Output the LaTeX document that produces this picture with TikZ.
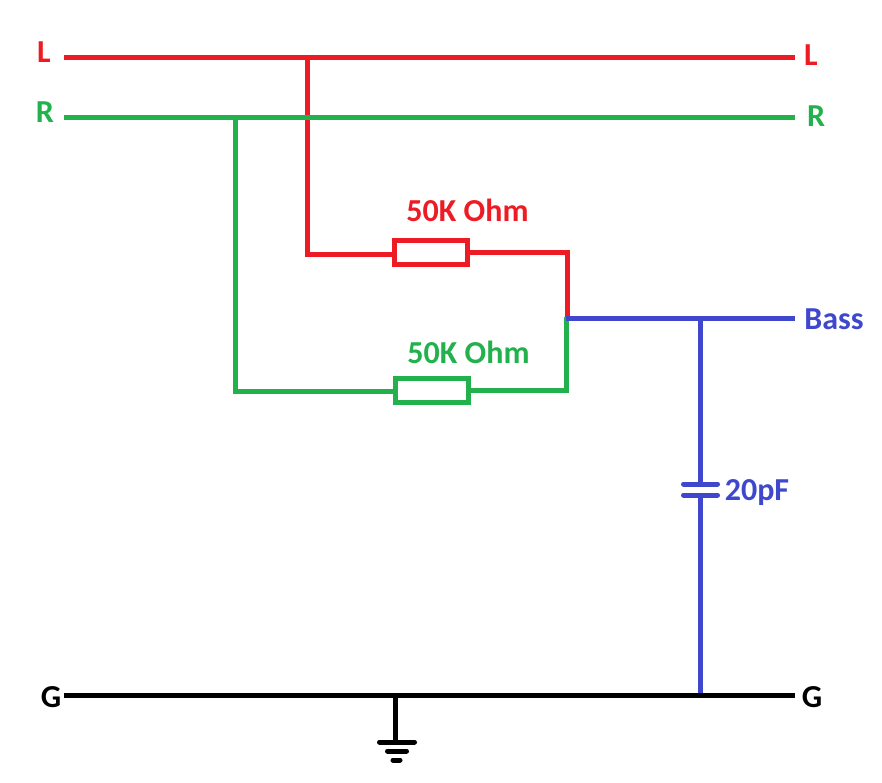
\documentclass[tikz,border=0pt]{standalone}
\usepackage{fontspec}
\usetikzlibrary{calc}
\setmainfont{Carlito}
\definecolor{wred}{HTML}{ED1C24}
\definecolor{wgreen}{HTML}{22B14C}
\definecolor{wblue}{HTML}{3F48CC}
\tikzset{
  wire/.style={line width=5pt,line cap=butt},
  plate/.style={line width=5pt,line cap=round},
  lbl/.style={font=\bfseries\fontsize{32}{32}\selectfont,inner sep=0pt,anchor=center},
  resbox/.style={draw,line width=5pt,fill=white,inner sep=0pt,minimum width=73pt,minimum height=24pt}
}
\begin{document}
\begin{tikzpicture}[x=1pt,y=-1pt]
\useasboundingbox (0,0) rectangle (882,782);
% terminals
\coordinate (Ls) at (64,57); \coordinate (Le) at (795,57);
\coordinate (Rs) at (64,117.5); \coordinate (Re) at (795,117.5);
\coordinate (Gs) at (64,695); \coordinate (Ge) at (795,695);
\coordinate (Be) at (795,318.5);
% junctions
\coordinate (jr) at (307.5,57); \coordinate (jrb) at (307.5,254);
\coordinate (jg) at (235.5,117.5); \coordinate (jgb) at (235.5,391);
\coordinate (mr) at (567.5,252.5); \coordinate (mb) at (567.5,318.5);
\coordinate (mg) at (566.5,390); \coordinate (mgt) at (566.5,319);
\coordinate (jb) at (700.5,318.5); \coordinate (jbg) at (700.5,695);
\coordinate (c1) at (700.5,484); \coordinate (c2) at (700.5,495);
\coordinate (gt) at (395.5,695); \coordinate (gb) at (395.5,742);
% main rails
\draw[wire,wred] (Ls) -- (Le);
\draw[wire,wred] (jr) -- (jrb);
\draw[wire,wgreen] (Rs) -- (Re);
\draw[wire,wgreen] (jg) -- (jgb);
% resistors
\node[resbox,draw=wred] (r1) at (431,252.5) {};
\node[resbox,draw=wgreen] (r2) at (432,390.25) {};
% resistor legs
\draw[wire,wred] ([xshift=-2.5pt]jrb) -- (r1.west |- jrb);
\draw[wire,wred] (r1.east |- mr) -- ([xshift=2.5pt]mr);
\draw[wire,wred] (mr) -- (mb);
\draw[wire,wgreen] ([xshift=-2.5pt]jgb) -- (r2.west |- jgb);
\draw[wire,wgreen] (r2.east |- mg) -- ([xshift=2.5pt]mg);
\draw[wire,wgreen] ([yshift=2.5pt]mgt) -- ([yshift=2.5pt]mg);
% bass line and capacitor
\draw[wire,wblue] ([xshift=-2pt]mb) -- (Be);
\draw[wire,wblue] (jb) -- (c1);
\draw[wire,wblue] (c2) -- (jbg);
\draw[plate,wblue] ([xshift=-17pt]c1) -- ([xshift=17pt]c1);
\draw[plate,wblue] ([xshift=-17pt]c2) -- ([xshift=17pt]c2);
% ground
\draw[wire,black] (Gs) -- (Ge);
\draw[wire,black] (gt) -- (gb);
\draw[plate,black] ([xshift=-16pt]gb) -- ([xshift=19pt]gb);
\draw[plate,black] ($(gb)+(-8,9)$) -- ($(gb)+(11,9)$);
\draw[plate,black] ($(gb)+(-2.5,18)$) -- ($(gb)+(4.5,18)$);
% labels
\node[lbl,text=wred] (tL1) at (44,52) {L};
\node[lbl,text=wred] (tL2) at (811,55) {L};
\node[lbl,text=wgreen] (tR1) at (45,112) {R};
\node[lbl,text=wgreen] (tR2) at (816,116) {R};
\node[lbl,text=black] (tG1) at (51,697) {G};
\node[lbl,text=black] (tG2) at (812,697) {G};
\node[lbl,text=wblue] (tB) at (834,319) {Bass};
\node[lbl,text=wred] (t50a) at (467.5,210) {50K Ohm};
\node[lbl,text=wgreen] (t50b) at (468.5,352) {50K Ohm};
\node[lbl,text=wblue] (t20) at (757,492.5) {20pF};
\end{tikzpicture}
\end{document}
